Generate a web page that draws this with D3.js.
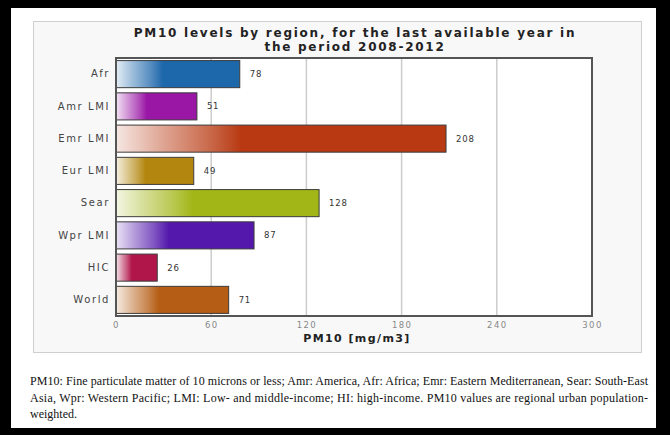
<!DOCTYPE html>
<html>
<head>
<meta charset="utf-8">
<script src="https://cdn.jsdelivr.net/npm/d3@7"></script>
<style>
  html, body { margin: 0; padding: 0; background: #fff; }
  svg { display: block; }
</style>
</head>
<body>
<div id="chart"></div>
<script>
// PM10 levels by region - horizontal bar chart

const regions = ['Afr', 'Amr LMI', 'Emr LMI', 'Eur LMI', 'Sear', 'Wpr LMI', 'HIC', 'World'];
const pm10Values = [78, 51, 208, 49, 128, 87, 26, 71];
const barColors = ['#1d67ab', '#9a17a6', '#b83912', '#b3860f', '#a2b617', '#5419ac', '#b1164a', '#b55d14'];
const xTicks = [0, 60, 120, 180, 240, 300];

const titleLines = ['PM10 levels by region, for the last available year in', 'the period 2008-2012'];
const xTitle = 'PM10 [mg/m3]';
const noteLines = [
    'PM10: Fine particulate matter of 10 microns or less; Amr: America, Afr: Africa; Emr: Eastern Mediterranean, Sear: South-East',
    'Asia, Wpr: Western Pacific; LMI: Low- and middle-income; HI: high-income. PM10 values are regional urban population-',
    'weighted.'
];

const width = 670, height = 435;
const plot = { left: 116, right: 592, top: 58, bottom: 316 };
const sans = 'DejaVu Sans, Verdana, sans-serif';

const svg = d3.select('#chart')
    .append('svg')
    .attr('width', width)
    .attr('height', height);

// Black frame around the whole picture
svg.append('rect')
    .attr('x', 0).attr('y', 0)
    .attr('width', width).attr('height', height)
    .attr('fill', '#000');
svg.append('rect')
    .attr('x', 11).attr('y', 8)
    .attr('width', 645).attr('height', 420)
    .attr('fill', '#fff');

// Light chart panel
svg.append('rect')
    .attr('x', 33.5).attr('y', 21.5)
    .attr('width', 608).attr('height', 331)
    .attr('fill', '#f8f8f8')
    .attr('stroke', '#cfcfcf')
    .attr('stroke-width', 1);

// Plot background
svg.append('rect')
    .attr('x', plot.left).attr('y', plot.top)
    .attr('width', plot.right - plot.left).attr('height', plot.bottom - plot.top)
    .attr('fill', '#fff');

// Title
svg.append('g')
    .selectAll('text')
    .data(titleLines)
    .enter().append('text')
    .attr('x', 355)
    .attr('y', (d, i) => 37 + i * 13.5)
    .attr('text-anchor', 'middle')
    .attr('font-family', sans)
    .attr('font-weight', 'bold')
    .attr('font-size', 12)
    .attr('letter-spacing', 1.75)
    .attr('fill', '#222')
    .text(d => d);

// Scales
const x = d3.scaleLinear()
    .domain([0, 300])
    .range([plot.left, plot.right]);

const y = d3.scaleBand()
    .domain(regions)
    .range([plot.top, plot.bottom])
    .paddingInner(0.16)
    .paddingOuter(0.08);

// Gridlines
svg.append('g')
    .selectAll('line')
    .data(xTicks.slice(1, -1))
    .enter().append('line')
    .attr('x1', d => x(d)).attr('x2', d => x(d))
    .attr('y1', plot.top).attr('y2', plot.bottom)
    .attr('stroke', '#cccccc')
    .attr('stroke-width', 1.5);

// Gradients for bars: pale on the left, full colour after about a third
const defs = svg.append('defs');
const grads = defs.selectAll('linearGradient')
    .data(barColors)
    .enter().append('linearGradient')
    .attr('id', (d, i) => 'grad' + i)
    .attr('x1', 0).attr('x2', 1).attr('y1', 0).attr('y2', 0);

grads.append('stop').attr('offset', 0)
    .attr('stop-color', d => d3.interpolateRgb('#ffffff', d)(0.12));
grads.append('stop').attr('offset', 0.14)
    .attr('stop-color', d => d3.interpolateRgb('#ffffff', d)(0.45));
grads.append('stop').attr('offset', 0.28)
    .attr('stop-color', d => d3.interpolateRgb('#ffffff', d)(0.75));
grads.append('stop').attr('offset', 0.38)
    .attr('stop-color', d => d);
grads.append('stop').attr('offset', 1)
    .attr('stop-color', d => d);

// Bars
svg.append('g')
    .selectAll('rect')
    .data(regions)
    .enter().append('rect')
    .attr('x', x(0))
    .attr('y', d => y(d))
    .attr('width', (d, i) => x(pm10Values[i]) - x(0))
    .attr('height', y.bandwidth())
    .attr('fill', (d, i) => 'url(#grad' + i + ')')
    .attr('stroke', '#3c3c3c')
    .attr('stroke-width', 1);

// Value labels
svg.append('g')
    .selectAll('text')
    .data(regions)
    .enter().append('text')
    .attr('x', (d, i) => x(pm10Values[i]) + 10)
    .attr('y', d => y(d) + y.bandwidth() / 2)
    .attr('dy', '0.35em')
    .attr('font-family', sans)
    .attr('font-size', 8.5)
    .attr('letter-spacing', 0.8)
    .attr('fill', '#333')
    .text((d, i) => pm10Values[i]);

// Plot border
svg.append('rect')
    .attr('x', plot.left).attr('y', plot.top)
    .attr('width', plot.right - plot.left).attr('height', plot.bottom - plot.top)
    .attr('fill', 'none')
    .attr('stroke', '#555')
    .attr('stroke-width', 2);

// Category axis
const yAxis = svg.append('g')
    .attr('transform', `translate(${plot.left},0)`)
    .call(d3.axisLeft(y).tickSize(0).tickPadding(6));
yAxis.select('.domain').remove();
yAxis.selectAll('text')
    .attr('font-family', sans)
    .attr('font-size', 10)
    .attr('letter-spacing', 1.6)
    .attr('fill', '#444');

// Value axis
const xAxis = svg.append('g')
    .attr('transform', `translate(0,${plot.bottom})`)
    .call(d3.axisBottom(x).tickValues(xTicks).tickSize(0).tickPadding(6));
xAxis.select('.domain').remove();
xAxis.selectAll('text')
    .attr('font-family', sans)
    .attr('font-size', 8.5)
    .attr('letter-spacing', 1.4)
    .attr('fill', '#888');

// Axis title
svg.append('text')
    .attr('x', 357).attr('y', 342)
    .attr('text-anchor', 'middle')
    .attr('font-family', sans)
    .attr('font-weight', 'bold')
    .attr('font-size', 11)
    .attr('letter-spacing', 1.4)
    .attr('fill', '#222')
    .text(xTitle);

// Footnote (justified lines)
svg.append('g')
    .selectAll('text')
    .data(noteLines)
    .enter().append('text')
    .attr('x', 30)
    .attr('y', (d, i) => 385 + i * 16.5)
    .attr('font-family', 'Liberation Serif, Times New Roman, serif')
    .attr('font-size', 12)
    .attr('fill', '#111')
    .attr('textLength', (d, i) => i < 2 ? 618 : null)
    .attr('lengthAdjust', 'spacing')
    .text(d => d);
</script>
</body>
</html>
